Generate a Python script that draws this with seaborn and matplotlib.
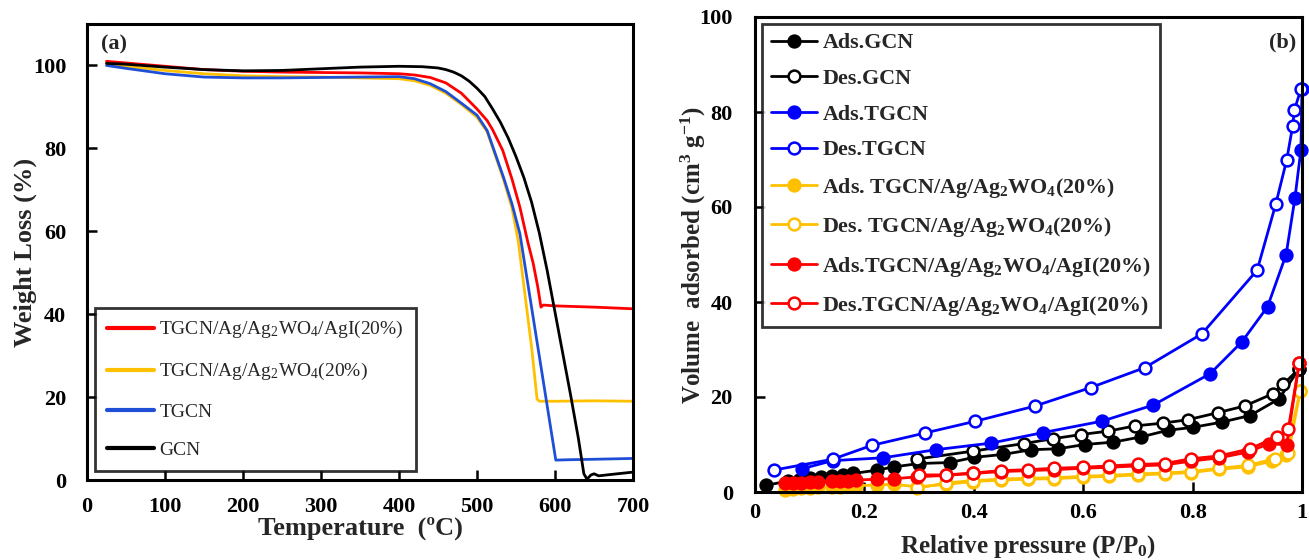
import matplotlib
matplotlib.use("Agg")
import matplotlib.pyplot as plt
import seaborn as sns

# ---------------- TGA data (panel a) ----------------
t_gcn = [25, 50, 100, 150, 200, 250, 300, 350, 400, 430, 450, 460, 470, 480, 490, 500, 510,
         520, 530, 540, 550, 560, 570, 580, 590, 600, 610, 620, 630, 637, 641, 646, 650, 656, 670, 685, 700]
w_gcn = [100.5, 100.3, 99.6, 99.0, 98.7, 98.8, 99.2, 99.6, 99.8, 99.7, 99.4, 99.0, 98.4, 97.5, 96.2, 94.5, 92.5,
         89.5, 86.3, 82.5, 78.0, 73.0, 67.0, 59.5, 50.5, 40.5, 30.5, 20.5, 10.0, 1.5, 0.2, 1.2, 1.5, 1.0, 1.3, 1.6, 1.9]

t_agi = [25, 50, 100, 150, 200, 250, 300, 350, 400, 420, 440, 460, 480, 500, 513, 520, 533,
         545, 555, 565, 572, 578, 582, 585, 600, 650, 700]
w_agi = [101.0, 100.6, 99.8, 99.0, 98.6, 98.4, 98.3, 98.2, 98.0, 97.7, 97.1, 95.8, 93.3, 89.5, 86.7, 84.5, 79.5,
         72.5, 65.8, 57.5, 52.3, 46.5, 41.7, 42.2, 42.0, 41.7, 41.3]

t_awo = [25, 50, 100, 150, 200, 250, 300, 350, 400, 420, 440, 460, 480, 500, 513, 534,
         545, 553, 560, 570, 577, 580, 600, 650, 700]
w_awo = [100.5, 99.8, 98.8, 98.0, 97.5, 97.3, 97.2, 97.0, 96.8, 96.3, 95.2, 93.3, 90.6, 87.5, 84.0, 72.5,
         65.5, 57.5, 47.0, 32.0, 19.5, 19.0, 19.0, 19.1, 19.0]

t_tgcn = [25, 50, 100, 150, 200, 250, 300, 350, 400, 420, 440, 460, 480, 500, 513, 534,
          545, 555, 570, 585, 601, 620, 650, 700]
w_tgcn = [100.0, 99.3, 98.0, 97.2, 97.0, 97.0, 97.1, 97.2, 97.3, 96.8, 95.6, 93.7, 90.9, 88.0, 84.3, 73.0,
          66.5, 59.4, 41.6, 23.8, 4.8, 4.9, 5.0, 5.2]

tga_labels = [r"TGCN/Ag/Ag$_2$WO$_4$/AgI(20%)", r"TGCN/Ag/Ag$_2$WO$_4$(20%)", "TGCN", "GCN"]

# ---------------- N2 isotherm data (panel b) ----------------
p_ads_gcn = [0.02, 0.06, 0.08, 0.10, 0.12, 0.14, 0.16, 0.18, 0.223, 0.255, 0.30, 0.356, 0.401, 0.453,
             0.505, 0.554, 0.603, 0.655, 0.706, 0.755, 0.80, 0.853, 0.905, 0.958, 0.995]
v_ads_gcn = [1.4, 2.3, 2.6, 2.9, 3.2, 3.4, 3.6, 3.9, 4.6, 5.3, 6.0, 6.2, 7.3, 7.9,
             8.9, 9.1, 10.0, 10.5, 11.6, 13.0, 13.6, 14.7, 16.1, 19.6, 26.0]
p_des_gcn = [0.995, 0.966, 0.947, 0.895, 0.846, 0.791, 0.745, 0.694, 0.645, 0.596, 0.544, 0.492, 0.398, 0.297]
v_des_gcn = [26.0, 22.7, 20.7, 18.1, 16.7, 15.2, 14.5, 13.9, 12.8, 12.1, 11.2, 10.2, 8.6, 6.95]

p_ads_tgcn = [0.086, 0.142, 0.234, 0.330, 0.432, 0.526, 0.634, 0.728, 0.832, 0.890, 0.937, 0.971,
              0.987, 0.998, 1.0]
v_ads_tgcn = [4.9, 6.6, 7.2, 8.9, 10.3, 12.5, 14.9, 18.3, 24.9, 31.6, 39.0, 50.0, 61.8, 72.0, 84.8]
p_des_tgcn = [0.998, 0.986, 0.983, 0.972, 0.952, 0.918, 0.817, 0.713, 0.614, 0.512, 0.403, 0.31,
              0.213, 0.142, 0.034]
v_des_tgcn = [84.8, 80.4, 77.1, 69.9, 60.6, 46.7, 33.3, 26.2, 22.0, 18.1, 14.9, 12.4, 9.8, 6.9, 4.6]

p_ads_awo = [0.055, 0.07, 0.085, 0.10, 0.115, 0.14, 0.155, 0.17, 0.185, 0.223, 0.255, 0.297, 0.349,
             0.398, 0.45, 0.499, 0.547, 0.599, 0.648, 0.70, 0.749, 0.797, 0.849, 0.901, 0.945, 0.97, 0.997]
v_ads_awo = [0.5, 0.7, 0.8, 0.9, 1.0, 1.1, 1.1, 1.2, 1.3, 1.5, 1.6, 1.1, 1.6,
             2.2, 2.5, 2.7, 2.8, 3.1, 3.3, 3.6, 3.8, 4.1, 4.8, 5.3, 6.5, 7.8, 21.3]
p_des_awo = [0.997, 0.975, 0.95, 0.901, 0.849, 0.797, 0.749, 0.70, 0.648, 0.599, 0.547, 0.499,
             0.45, 0.398, 0.349, 0.297]
v_des_awo = [21.3, 8.2, 7.0, 5.6, 5.0, 4.3, 4.0, 3.8, 3.5, 3.3, 3.0, 2.9, 2.7, 2.4, 1.9, 0.8]

p_ads_agi = [0.055, 0.07, 0.085, 0.10, 0.115, 0.14, 0.155, 0.17, 0.185, 0.223, 0.255, 0.297, 0.349,
             0.398, 0.45, 0.499, 0.547, 0.599, 0.648, 0.70, 0.749, 0.797, 0.849, 0.901, 0.94, 0.972, 0.995]
v_ads_agi = [1.8, 1.9, 2.0, 2.1, 2.2, 2.3, 2.4, 2.4, 2.5, 2.7, 2.8, 3.2, 3.5,
             3.9, 4.3, 4.5, 4.7, 5.0, 5.2, 5.5, 5.7, 6.5, 7.2, 8.4, 10.2, 9.9, 27.2]
p_des_agi = [0.995, 0.975, 0.954, 0.905, 0.849, 0.797, 0.749, 0.70, 0.648, 0.599, 0.547, 0.499,
             0.45, 0.398, 0.349, 0.30]
v_des_agi = [27.2, 13.3, 11.6, 9.1, 7.6, 7.0, 6.0, 5.8, 5.5, 5.2, 5.0, 4.7, 4.5, 4.0, 3.6, 3.6]

iso_labels = ["Ads.GCN", "Des.GCN", "Ads.TGCN", "Des.TGCN",
              r"Ads. TGCN/Ag/Ag$_2$WO$_4$(20%)", r"Des. TGCN/Ag/Ag$_2$WO$_4$(20%)",
              r"Ads.TGCN/Ag/Ag$_2$WO$_4$/AgI(20%)", r"Des.TGCN/Ag/Ag$_2$WO$_4$/AgI(20%)"]

# ---------------- style ----------------
sns.set_theme(style="ticks")
plt.rcParams["font.family"] = ["Liberation Serif", "DejaVu Serif"]
plt.rcParams["mathtext.fontset"] = "custom"
plt.rcParams["mathtext.rm"] = "Liberation Serif"
plt.rcParams["mathtext.it"] = "Liberation Serif:italic"
plt.rcParams["mathtext.bf"] = "Liberation Serif:bold"
plt.rcParams["mathtext.default"] = "regular"

RED = "#ff0000"
YEL = "#ffc000"
BLU_A = "#1f4fd6"
BLU_B = "#0000ff"
BLK = "#000000"

fig = plt.figure(figsize=(13.09, 5.60), dpi=100)
ax1 = fig.add_axes([87 / 1309, 1 - 480 / 560, 546 / 1309, 456 / 560])
ax2 = fig.add_axes([755 / 1309, 1 - 492 / 560, 547 / 1309, 475 / 560])


def style_axes(ax, xpad, ypad):
    for s in ax.spines.values():
        s.set_linewidth(2.2)
        s.set_color("black")
    ax.tick_params(direction="in", length=7, width=1.8, labelsize=16, colors="black")
    ax.tick_params(axis="x", pad=xpad)
    ax.tick_params(axis="y", pad=ypad)
    for lab in ax.get_xticklabels() + ax.get_yticklabels():
        lab.set_fontweight("bold")


# ---------------- panel (a) ----------------
tga = [(t_agi, w_agi, RED), (t_awo, w_awo, YEL), (t_tgcn, w_tgcn, BLU_A), (t_gcn, w_gcn, BLK)]
for (t, w, c), lab in zip(tga, tga_labels):
    sns.lineplot(x=t, y=w, ax=ax1, color=c, lw=2.0, sort=False, estimator=None, label=lab)

ax1.set_xlim(0, 700)
ax1.set_ylim(0, 110)
ax1.set_xticks(range(0, 701, 100))
ax1.set_yticks(range(0, 101, 20))
style_axes(ax1, 12, 15)
ax1.set_xlabel("Temperature  (ºC)", fontsize=19, fontweight="bold", labelpad=0)
ax1.set_ylabel("Weight Loss (%)", fontsize=19, fontweight="bold", labelpad=-3)
ax1.text(0.05, 0.955, "(a)", transform=ax1.transAxes, fontsize=16, fontweight="bold",
         ha="center", va="center")
leg1 = ax1.legend(loc="lower left", bbox_to_anchor=(0.015, 0.02), borderaxespad=0,
                  fontsize=14, frameon=True, fancybox=False, edgecolor="black",
                  handlelength=2.4, handletextpad=0.3, labelspacing=1.07, borderpad=0.6)
leg1.get_frame().set_linewidth(2.0)
for ln in leg1.get_lines():
    ln.set_linewidth(3.0)

# ---------------- panel (b) ----------------
iso = [(p_ads_gcn, v_ads_gcn, BLK, True), (p_des_gcn, v_des_gcn, BLK, False),
       (p_ads_tgcn, v_ads_tgcn, BLU_B, True), (p_des_tgcn, v_des_tgcn, BLU_B, False),
       (p_ads_awo, v_ads_awo, YEL, True), (p_des_awo, v_des_awo, YEL, False),
       (p_ads_agi, v_ads_agi, RED, True), (p_des_agi, v_des_agi, RED, False)]
for (p, v, c, filled), lab in zip(iso, iso_labels):
    sns.lineplot(x=p, y=v, ax=ax2, color=c, lw=2.0, sort=False, estimator=None, label=lab,
                 marker="o", markersize=8.5, markeredgewidth=1.8, markeredgecolor=c,
                 markerfacecolor=c if filled else "white", clip_on=False)

ax2.set_xlim(0, 1)
ax2.set_ylim(0, 100)
ax2.set_xticks([0, 0.2, 0.4, 0.6, 0.8, 1.0])
ax2.set_xticklabels(["0", "0.2", "0.4", "0.6", "0.8", "1"])
ax2.set_yticks(range(0, 101, 20))
style_axes(ax2, 8, 16)
ax2.set_xlabel("Relative pressure (P/P$_0$)", fontsize=18, fontweight="bold", labelpad=7)
ax2.set_ylabel("Volume  adsorbed (cm$^3$ g$^{-1}$)", fontsize=18, fontweight="bold", labelpad=-6)
ax2.text(0.965, 0.947, "(b)", transform=ax2.transAxes, fontsize=16, fontweight="bold",
         ha="center", va="center")
leg2 = ax2.legend(loc="upper left", bbox_to_anchor=(0.013, 0.985), borderaxespad=0,
                  prop={"size": 15.8, "weight": "bold"}, frameon=True, fancybox=False,
                  edgecolor="black", handlelength=2.1, handletextpad=0.25, labelspacing=0.70,
                  borderpad=0.4)
leg2.get_frame().set_linewidth(2.0)

fig.savefig("out.png", dpi=100, facecolor="white")
